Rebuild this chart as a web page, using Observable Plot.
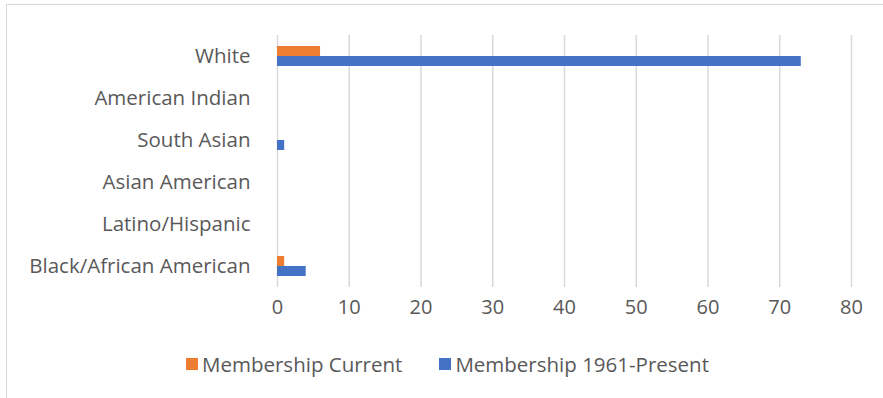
<!DOCTYPE html>
<html>
<head>
<meta charset="utf-8">
<script src="https://cdn.jsdelivr.net/npm/d3@7"></script>
<script src="https://cdn.jsdelivr.net/npm/@observablehq/plot@0.6"></script>
<style>
  html, body { margin: 0; padding: 0; background: #fff; }
  #wrap { position: relative; width: 883px; height: 398px; overflow: hidden; font-family: "Open Sans", Lato, sans-serif; }
  #frame { position: absolute; left: 6px; top: 4px; width: 920px; height: 440px; border: 1px solid #d9d9d9; box-sizing: border-box; }
  #chart { position: absolute; left: 0; top: 0; }
  #legend { position: absolute; top: 350px; left: 12px; width: 871px; display: flex; justify-content: center; gap: 37px; font-size: 20.5px; color: #595959; }
  #legend span.item { display: flex; align-items: center; }
  #legend span.sw { display: inline-block; width: 12px; height: 12px; margin-right: 4px; }
</style>
</head>
<body>
<div id="wrap">
  <div id="frame"></div>
  <div id="chart"></div>
  <div id="legend"></div>
</div>
<script>
const categories = ["White", "American Indian", "South Asian", "Asian American", "Latino/Hispanic", "Black/African American"];
const seriesNames = ["Membership Current", "Membership 1961-Present"];
const seriesColors = ["#ED7D31", "#4472C4"];
const membershipCurrent = [6, 0, 0, 0, 0, 1];
const membership1961 = [73, 0, 1, 0, 0, 4];
const xTicks = [0, 10, 20, 30, 40, 50, 60, 70, 80];

const data = [];
categories.forEach((c, i) => {
  data.push({category: c, series: seriesNames[0], value: membershipCurrent[i]});
  data.push({category: c, series: seriesNames[1], value: membership1961[i]});
});

const plot = Plot.plot({
  width: 883,
  height: 330,
  marginLeft: 277,
  marginRight: 32,
  marginTop: 34,
  marginBottom: 42,
  style: {fontFamily: "'Open Sans', Lato, sans-serif", fontSize: "20px", color: "#595959", background: "transparent"},
  x: {domain: [0, 80], ticks: xTicks, label: null},
  fy: {domain: categories, padding: 0, label: null},
  y: {domain: seriesNames, paddingInner: 0, paddingOuter: 1.1, axis: null},
  color: {domain: seriesNames, range: seriesColors},
  marks: [
    Plot.gridX(xTicks, {stroke: "#d9d9d9", strokeOpacity: 1, strokeWidth: 1.5}),
    Plot.barX(data, {fy: "category", y: "series", x: "value", fill: "series"}),
    Plot.axisFy({anchor: "left", tickSize: 0, tickPadding: 27, fontSize: 20.5, fill: "#595959", label: null}),
    Plot.axisX(xTicks, {tickSize: 0, tickPadding: 12, fontSize: 20, fill: "#595959", label: null, facetAnchor: "bottom"})
  ]
});
document.getElementById("chart").appendChild(plot);

const legend = document.getElementById("legend");
seriesNames.forEach((s, i) => {
  const item = document.createElement("span");
  item.className = "item";
  const sw = document.createElement("span");
  sw.className = "sw";
  sw.style.background = seriesColors[i];
  item.appendChild(sw);
  item.appendChild(document.createTextNode(s));
  legend.appendChild(item);
});
</script>
</body>
</html>
